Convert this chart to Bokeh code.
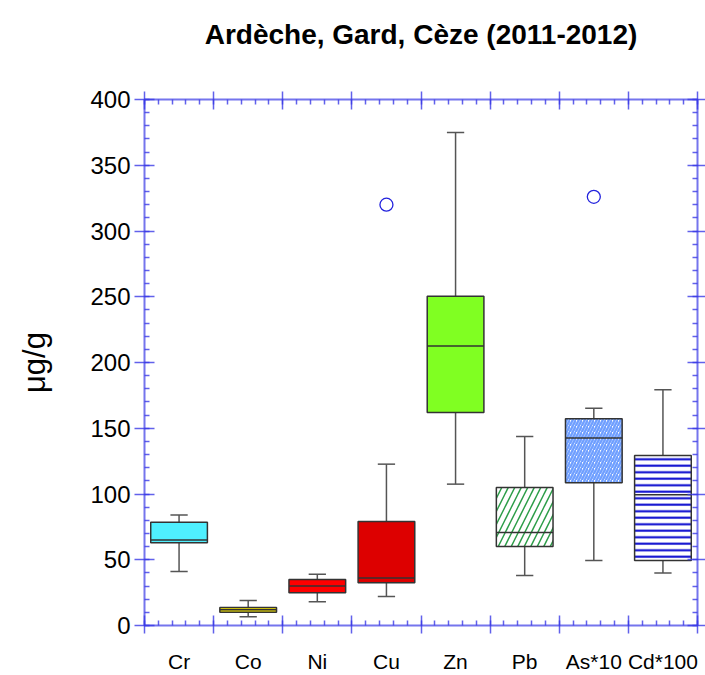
from bokeh.plotting import figure
from bokeh.models import ColumnDataSource, LinearAxis, FixedTicker, Range1d
from bokeh.embed import file_html
from bokeh.resources import INLINE

# ---- data ----
title_text = "Ardèche, Gard, Cèze (2011-2012)"
categories = ["Cr", "Co", "Ni", "Cu", "Zn", "Pb", "As*10", "Cd*100"]
whisker_low = [41, 6.6, 18, 22, 107.5, 38, 49.5, 40]
q1 = [63, 10, 25, 32.5, 162, 60, 108.5, 49.5]
median = [65, 12, 30, 36.2, 212.5, 70.7, 142.5, 99.5]
q3 = [78.5, 13.7, 35, 79, 250.3, 105, 157.2, 129.3]
whisker_high = [84, 19, 39, 122.7, 375, 143.7, 165.3, 179.2]
outlier_cat = ["Cu", "As*10"]
outlier_val = [320, 326]
y_ticks = [0, 50, 100, 150, 200, 250, 300, 350, 400]
y_minor = list(range(0, 401, 10))

# category slots: each category occupies one unit, centred at i + 0.5
xc = [i + 0.5 for i in range(len(categories))]
x_bounds = list(range(0, len(categories) + 1))
x_minor = [i / 5 for i in range(0, 5 * len(categories) + 1)]
ox = [categories.index(c) + 0.5 for c in outlier_cat]

# ---- styles ----
BOX_W = 0.82
CAP_W = 0.125
fills = ["#4FF0FF", "#FFEE00", "#FF0000", "#DD0000", "#80FF22", "white", "white", "white"]
hatches = [" ", " ", " ", " ", " ", "/", "/", "-"]
hatch_colors = ["black", "black", "black", "black", "black", "#2E9E4A", "#6F9FFF", "#0000CC"]
hatch_scales = [12, 12, 12, 12, 12, 13, 6, 6.5]
hatch_weights = [1, 1, 1, 1, 1, 1.5, 2.4, 2]

src = ColumnDataSource(dict(x=xc, lo=whisker_low, q1=q1, med=median,
                            q3=q3, hi=whisker_high,
                            xl=[v - BOX_W / 2 for v in xc], xr=[v + BOX_W / 2 for v in xc],
                            cl=[v - CAP_W for v in xc], cr=[v + CAP_W for v in xc],
                            fill=fills, hp=hatches,
                            hc=hatch_colors, hs=hatch_scales, hw=hatch_weights))

FONT = "Liberation Sans"
AX = "#3a3ae6"

p = figure(width=705, height=675, output_backend="svg", toolbar_location=None,
           x_range=Range1d(0, len(categories)), y_range=Range1d(0, 400),
           x_axis_location=None, y_axis_location=None,
           min_border_left=144, min_border_right=8, min_border_top=99,
           min_border_bottom=48)
p.grid.visible = False
p.outline_line_color = None
p.background_fill_color = "white"
p.border_fill_color = "white"
p.title.text = ""


def style_ticks(ax, tin, tout, label=False):
    ax.axis_line_color = AX
    ax.axis_line_alpha = 0.7
    ax.axis_line_width = 2
    ax.major_tick_line_color = AX
    ax.major_tick_line_alpha = 0.8
    ax.major_tick_line_width = 1.5
    ax.minor_tick_line_color = AX
    ax.minor_tick_line_alpha = 0.8
    ax.minor_tick_line_width = 1.5
    ax.major_tick_in = tin
    ax.major_tick_out = tout
    ax.minor_tick_in = 5
    ax.minor_tick_out = 0
    if not label:
        ax.major_label_text_font_size = "0px"
        ax.major_label_text_alpha = 0
        ax.major_label_standoff = 0


# left axis with labels
left = LinearAxis(ticker=FixedTicker(ticks=y_ticks, minor_ticks=y_minor))
style_ticks(left, 10, 10, label=True)
left.major_label_text_font = FONT
left.major_label_text_font_size = "24px"
left.major_label_text_color = "black"
left.major_label_standoff = 4
left.axis_label = "μg/g"
left.axis_label_text_font = FONT
left.axis_label_text_font_size = "31px"
left.axis_label_text_font_style = "normal"
left.axis_label_text_color = "black"
left.axis_label_standoff = 35
p.add_layout(left, "left")

right = LinearAxis(ticker=FixedTicker(ticks=y_ticks, minor_ticks=y_minor))
style_ticks(right, 10, 8)
p.add_layout(right, "right")

# top axis carries the chart title as its axis label (centred over the frame)
top = LinearAxis(ticker=FixedTicker(ticks=x_bounds, minor_ticks=x_minor))
style_ticks(top, 10, 8)
top.axis_label = title_text
top.axis_label_text_font = FONT
top.axis_label_text_font_size = "28px"
top.axis_label_text_font_style = "bold"
top.axis_label_text_color = "black"
top.axis_label_standoff = 42
p.add_layout(top, "above")

bottom = LinearAxis(ticker=FixedTicker(ticks=x_bounds, minor_ticks=x_minor))
style_ticks(bottom, 10, 8)
p.add_layout(bottom, "below")

cat_axis = LinearAxis(ticker=FixedTicker(ticks=xc, minor_ticks=[]),
                      major_label_overrides={v: c for v, c in zip(xc, categories)})
cat_axis.axis_line_color = None
cat_axis.major_tick_line_color = None
cat_axis.minor_tick_line_color = None
cat_axis.major_label_text_font = FONT
cat_axis.major_label_text_font_size = "21px"
cat_axis.major_label_text_color = "black"
cat_axis.major_label_standoff = 10
p.add_layout(cat_axis, "below")

# whiskers
p.segment(x0="x", y0="q3", x1="x", y1="hi", source=src, line_color="#555555", line_width=1.5)
p.segment(x0="x", y0="q1", x1="x", y1="lo", source=src, line_color="#555555", line_width=1.5)
p.segment(x0="cl", y0="hi", x1="cr", y1="hi", source=src, line_color="#555555", line_width=1.5)
p.segment(x0="cl", y0="lo", x1="cr", y1="lo", source=src, line_color="#555555", line_width=1.5)

# boxes
p.vbar(x="x", width=BOX_W, bottom="q1", top="q3", source=src,
       fill_color="fill", line_color="#333333", line_width=1.5,
       hatch_pattern="hp", hatch_color="hc", hatch_scale="hs", hatch_weight="hw")

# medians
p.segment(x0="xl", y0="med", x1="xr", y1="med", source=src,
          line_color="#333333", line_width=1.5)

# outliers
p.scatter(x=ox, y=outlier_val, marker="circle", size=13,
          fill_color=None, line_color="#2222DD", line_width=1.3)

open("out.html", "w").write(file_html(p, INLINE))
